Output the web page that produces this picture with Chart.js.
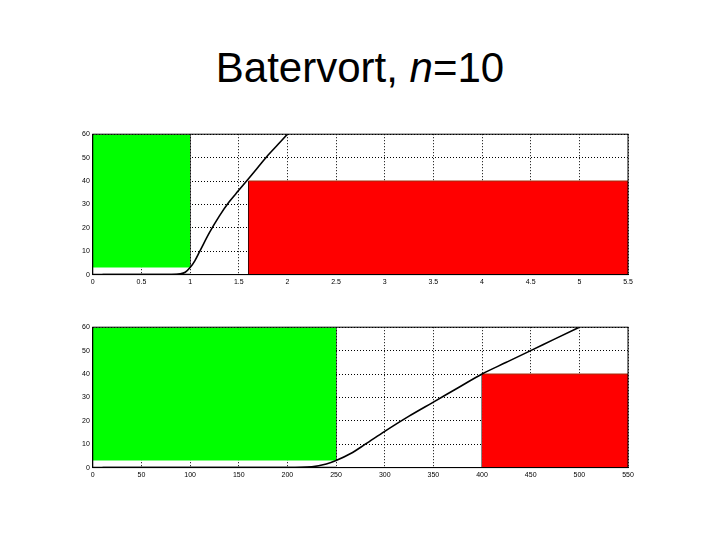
<!DOCTYPE html>
<html>
<head>
<meta charset="utf-8">
<script src="https://cdn.jsdelivr.net/npm/chart.js@4"></script>
<style>
body { margin:0; width:720px; height:540px; background:#fff; position:relative; font-family:"Liberation Sans",Arial,sans-serif; }
h1 { position:absolute; top:44px; left:0; width:720px; text-align:center; margin:0; font-weight:normal; font-size:42px; }
.box { position:absolute; left:74px; width:570px; height:162px; }
</style>
</head>
<body>
<h1>Batervort, <i>n</i>=10</h1>
<div class="box" style="top:127px"><canvas id="top"></canvas></div>
<div class="box" style="top:320px"><canvas id="bot"></canvas></div>
<script>
// top chart: normalized frequency
const topTicks = [0, 0.5, 1, 1.5, 2, 2.5, 3, 3.5, 4, 4.5, 5, 5.5];
const topCurveX = [0.1, 0.5, 0.8, 0.9, 0.95, 1, 1.05, 1.1, 1.2, 1.3, 1.4, 1.5, 1.6, 1.7, 1.8, 1.9, 2];
const topCurveY = [0, 0, 0.05, 0.3, 1, 3, 6, 10, 18, 25, 31, 36, 41, 46, 51, 55.5, 60];
const topPass = [0, 1];       // green band x range
const topPassY = [3, 60];     // green band y range
const topStop = [1.6, 5.5];   // red band x range
const topStopY = 40;

// bottom chart: frequency in Hz
const botTicks = [0, 50, 100, 150, 200, 250, 300, 350, 400, 450, 500, 550];
const botCurveX = [10, 100, 200, 225, 240, 250, 265, 280, 300, 325, 350, 375, 400, 425, 450, 475, 500];
const botCurveY = [0, 0, 0, 0.3, 1.5, 3, 6, 10, 15.5, 22, 28, 34, 40, 45, 50, 55, 60];
const botPass = [0, 250];
const botPassY = [3, 60];
const botStop = [400, 550];
const botStopY = 40;

const pts = (xs, ys) => xs.map((x, i) => ({ x, y: ys[i] }));

const makeChart = (id, ticks, cx, cy, pass, passY, stop, stopY) => {
    const ln = { pointRadius: 0, borderWidth: 0, tension: 0 };
    new Chart(document.getElementById(id), {
        type: 'line',
        data: { datasets: [
            { ...ln, data: pts(cx, cy), borderColor: '#000', borderWidth: 1.6, fill: false, cubicInterpolationMode: 'monotone' },
            { ...ln, data: [{x: pass[0], y: passY[1]}, {x: pass[1], y: passY[1]}], backgroundColor: '#00ff00', fill: '+1' },
            { ...ln, data: [{x: pass[0], y: passY[0]}, {x: pass[1], y: passY[0]}], fill: false },
            { ...ln, data: [{x: pass[1], y: passY[0]}, {x: pass[1], y: passY[1]}], borderColor: '#000', borderWidth: 1, fill: false },
            { ...ln, data: [{x: pass[0], y: 0}, {x: pass[1], y: 0}], borderColor: '#000', borderWidth: 1.6, fill: false },
            { ...ln, data: [{x: stop[0], y: stopY}, {x: stop[1], y: stopY}], backgroundColor: '#ff0000', borderColor: '#a03010', borderWidth: 1, fill: 'origin' },
            { ...ln, data: [{x: stop[0], y: 0}, {x: stop[0], y: stopY}], borderColor: '#000', borderWidth: 1, fill: false }
        ]},
        options: {
            responsive: false, animation: false, devicePixelRatio: 1,
            layout: { padding: { top: 6, right: 16, left: 5 } },
            plugins: { legend: { display: false }, tooltip: { enabled: false } },
            scales: {
                x: { type: 'linear', min: ticks[0], max: ticks[ticks.length - 1],
                     afterBuildTicks: a => { a.ticks = ticks.map(v => ({ value: v })); },
                     grid: { color: '#000', lineWidth: 1, tickLength: 0, z: -1 },
                     border: { color: '#000', dash: [1, 2] },
                     ticks: { font: { size: 7 }, color: '#000', maxRotation: 0, autoSkip: false, callback: v => String(v) } },
                y: { min: 0, max: 60,
                     afterBuildTicks: a => { a.ticks = [0, 10, 20, 30, 40, 50, 60].map(v => ({ value: v })); },
                     grid: { color: '#000', lineWidth: 1, tickLength: 0 },
                     border: { color: '#000', dash: [1, 2] },
                     ticks: { font: { size: 7 }, color: '#000' } }
            }
        },
        plugins: [{ id: 'frame', afterDraw: c => { const a = c.chartArea, g = c.ctx; g.save(); g.strokeStyle = '#000'; g.lineWidth = 1; g.strokeRect(a.left, a.top, a.right - a.left, a.bottom - a.top); g.restore(); } }]
    });
};

['top', 'bot'].forEach(id => { const c = document.getElementById(id); c.width = 570; c.height = 162; });
makeChart('top', topTicks, topCurveX, topCurveY, topPass, topPassY, topStop, topStopY);
makeChart('bot', botTicks, botCurveX, botCurveY, botPass, botPassY, botStop, botStopY);
</script>
</body>
</html>
